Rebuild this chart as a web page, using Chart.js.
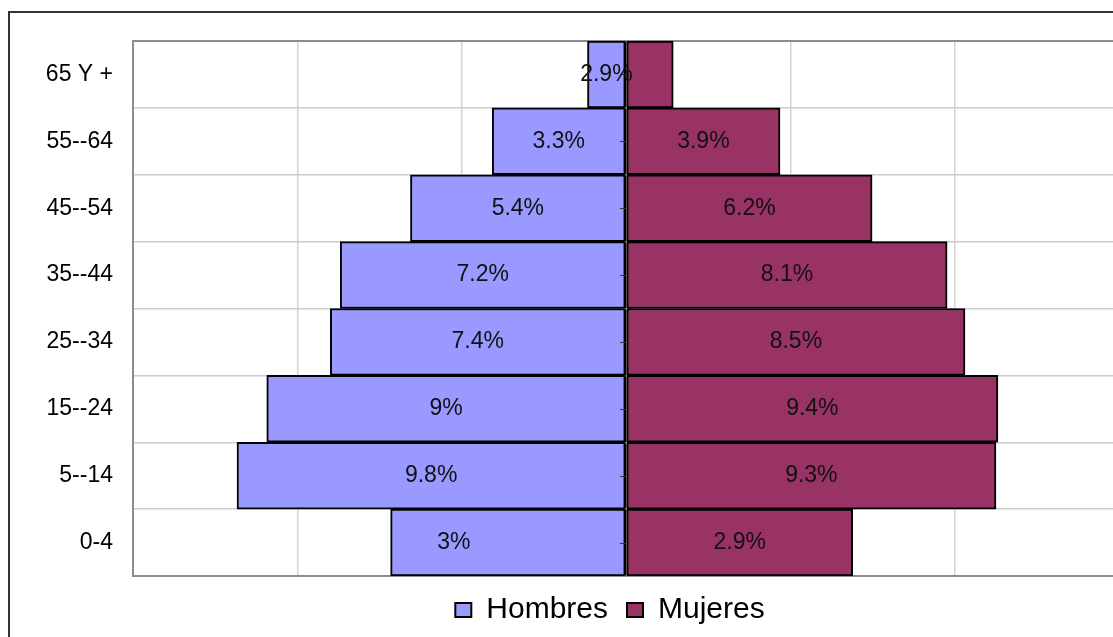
<!DOCTYPE html>
<html>
<head>
<meta charset="utf-8">
<script src="https://cdn.jsdelivr.net/npm/chart.js@4/dist/chart.umd.min.js"></script>
<style>
    html, body { margin: 0; padding: 0; background: #fff; overflow: hidden; }
    body { width: 1113px; height: 637px; position: relative; }
    #frame {
        position: absolute; left: 8px; top: 11px; width: 1200px; height: 700px;
        border-left: 2px solid #333; border-top: 2px solid #333;
    }
    #wrap { position: absolute; left: 0; top: 0; width: 1220px; height: 637px; }
</style>
</head>
<body>
<div id="frame"></div>
<div id="wrap"><canvas id="pyramid"></canvas></div>
<script>
// age groups, bottom to top
const groups = ["0-4", "5--14", "15--24", "25--34", "35--44", "45--54", "55--64", "65 Y +"];

// bar lengths as drawn (percent)
const hombres = [5.93, 9.8, 9.05, 7.45, 7.2, 5.43, 3.37, 0.97];
const mujeres = [5.71, 9.32, 9.37, 8.54, 8.09, 6.2, 3.88, 1.19];

// label texts printed on the bars
const hombresLabels = ["3%", "9.8%", "9%", "7.4%", "7.2%", "5.4%", "3.3%", "2.9%"];
const mujeresLabels = ["2.9%", "9.3%", "9.4%", "8.5%", "8.1%", "6.2%", "3.9%", ""];

const axisLimit = 12.42;
const gridStep = 4.14;

const FONT = "'Liberation Sans', Arial, sans-serif";

const barLabels = {
    id: "barLabels",
    afterDatasetsDraw(chart, args, opts) {
        const ctx = chart.ctx;
        ctx.save();
        ctx.font = `23px ${FONT}`;
        ctx.fillStyle = "#111";
        ctx.textAlign = "center";
        ctx.textBaseline = "middle";
        chart.data.datasets.forEach((ds, di) => {
            const meta = chart.getDatasetMeta(di);
            meta.data.forEach((bar, i) => {
                const txt = ds.labelTexts[i];
                if (!txt) return;
                let x = (bar.x + bar.base) / 2;
                (opts.shift || []).forEach(s => {
                    if (s.dataset === di && s.index === i) x += s.dx;
                });
                ctx.fillText(txt, x, bar.y);
            });
        });
        ctx.restore();
    }
};

const plotFrame = {
    id: "plotFrame",
    beforeDatasetsDraw(chart) {
        const a = chart.chartArea;
        const ctx = chart.ctx;
        ctx.save();
        ctx.strokeStyle = "#8c8c8c";
        ctx.lineWidth = 2;
        ctx.strokeRect(a.left, a.top, a.right - a.left, a.bottom - a.top);
        ctx.restore();
    },
    afterDatasetsDraw(chart) {
        // small tick marks of the central category axis
        const ys = chart.scales.y;
        const x0 = chart.scales.x.getPixelForValue(0);
        const ctx = chart.ctx;
        ctx.save();
        ctx.strokeStyle = "#333";
        ctx.lineWidth = 1;
        groups.forEach((g, i) => {
            const y = Math.round(ys.getPixelForValue(i)) + 0.5;
            ctx.beginPath();
            ctx.moveTo(x0 - 6, y);
            ctx.lineTo(x0, y);
            ctx.stroke();
        });
        ctx.restore();
    }
};

new Chart(document.getElementById("pyramid"), {
    type: "bar",
    data: {
        labels: groups,
        datasets: [{
            label: "Hombres",
            data: hombres.map(v => -v),
            labelTexts: hombresLabels,
            backgroundColor: "#9999FF",
            borderColor: "#000",
            borderWidth: 2,
            borderSkipped: false
        }, {
            label: "Mujeres",
            data: mujeres,
            labelTexts: mujeresLabels,
            backgroundColor: "#993366",
            borderColor: "#000",
            borderWidth: 2,
            borderSkipped: false
        }]
    },
    options: {
        indexAxis: "y",
        responsive: true,
        maintainAspectRatio: false,
        animation: false,
        layout: { padding: { left: 0, right: 0, top: 41, bottom: 2 } },
        scales: {
            x: {
                stacked: true,
                min: -axisLimit,
                max: axisLimit,
                afterBuildTicks: s => {
                    s.ticks = [-3, -2, -1, 0, 1, 2, 3].map(k => ({ value: k * gridStep }));
                },
                afterFit: s => { s.height = 0; },
                ticks: { display: false },
                border: { display: false },
                grid: {
                    drawTicks: false,
                    color: c => c.tick && Math.abs(c.tick.value) < 1e-6 ? "#000" : "#d4d4d4",
                    lineWidth: c => c.tick && Math.abs(c.tick.value) < 1e-6 ? 1.5 : 1.5
                }
            },
            y: {
                stacked: true,
                reverse: true,
                afterFit: s => { s.width = 133; },
                border: { display: false },
                grid: { drawTicks: false, offset: true, color: "#cccccc", lineWidth: 1.5 },
                ticks: { padding: 20, color: "#000", font: { family: FONT, size: 23 } }
            },
            // empty right-hand strip, so the legend centres like the original
            yRight: {
                type: "category",
                labels: groups,
                position: "right",
                afterFit: s => { s.width = 101; },
                ticks: { display: false },
                grid: { display: false },
                border: { display: false }
            }
        },
        datasets: { bar: { barPercentage: 1, categoryPercentage: 1 } },
        plugins: {
            legend: {
                position: "bottom",
                labels: {
                    boxWidth: 16,
                    boxHeight: 14,
                    padding: 19,
                    color: "#000",
                    font: { family: FONT, size: 30, lineHeight: 1 }
                }
            },
            tooltip: { enabled: false },
            barLabels: { shift: [{ dataset: 0, index: 0, dx: -54 }] }
        }
    },
    plugins: [plotFrame, barLabels]
});
</script>
</body>
</html>
